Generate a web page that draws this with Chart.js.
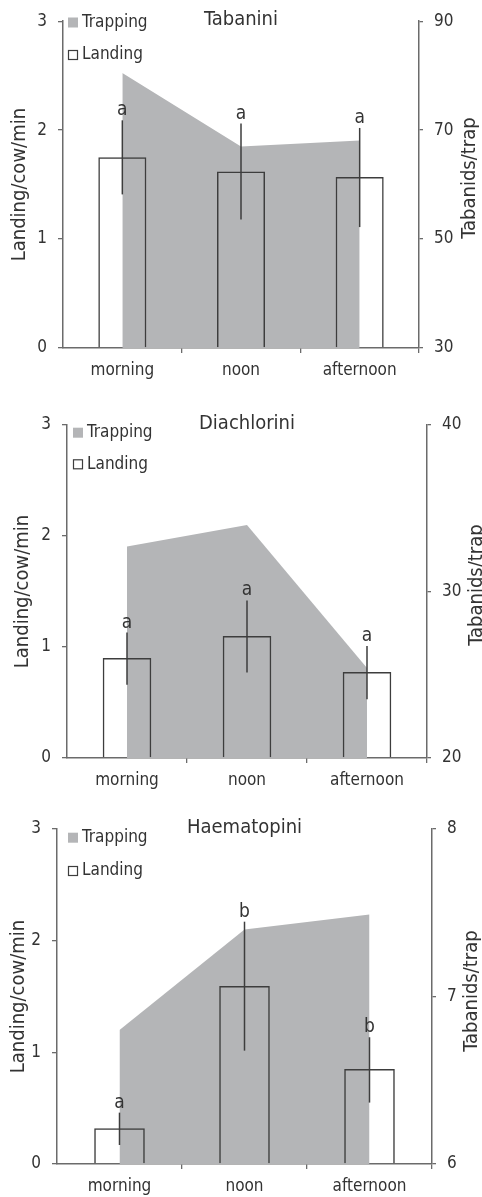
<!DOCTYPE html>
<html>
<head>
<meta charset="utf-8">
<script src="https://cdn.jsdelivr.net/npm/chart.js@4"></script>
<style>
  html, body { margin: 0; padding: 0; background: #fff; }
  canvas { display: block; }
</style>
</head>
<body>
<canvas id="c0" width="482" height="399"></canvas>
<canvas id="c1" width="482" height="399"></canvas>
<canvas id="c2" width="482" height="399"></canvas>
<script>
/* ── Data ───────────────────────────────────────────────── */
const periods = ["morning", "noon", "afternoon"];
const tribes  = ["Tabanini", "Diachlorini", "Haematopini"];

const landingTicks = [0, 1, 2, 3];

// Tabanini
const tabLanding  = [1.75, 1.62, 1.57];
const tabLow      = [1.41, 1.18, 1.11];
const tabHigh     = [2.09, 2.06, 2.02];
const tabLetters  = ["a", "a", "a"];
const tabTrapping = [80.5, 67.0, 68.1];
const tabTicks    = [30, 50, 70, 90];

// Diachlorini
const diaLanding  = [0.90, 1.10, 0.775];
const diaLow      = [0.66, 0.77, 0.53];
const diaHigh     = [1.13, 1.42, 1.01];
const diaLetters  = ["a", "a", "a"];
const diaTrapping = [32.7, 34.0, 25.4];
const diaTicks    = [20, 30, 40];

// Haematopini
const haeLanding  = [0.32, 1.595, 0.85];
const haeLow      = [0.17, 1.015, 0.55];
const haeHigh     = [0.46, 2.17, 1.135];
const haeLetters  = ["a", "b", "b"];
const haeTrapping = [6.80, 7.40, 7.49];
const haeTicks    = [6, 7, 8];

/* ── Style ──────────────────────────────────────────────── */
const FONT   = "'DejaVu Sans Condensed', 'Liberation Sans Narrow', 'DejaVu Sans', sans-serif";
const TEXT   = "#333333";
const AXIS   = "#6b6b6b";
const BAR    = "#3d3d3d";
const AREA   = "#b4b5b7";

// plot-area geometry per panel (canvas px)
const panels = [
  { title: tribes[0], landing: tabLanding, low: tabLow, high: tabHigh, letters: tabLetters,
    trap: tabTrapping, rTicks: tabTicks,
    box: { top: 20, bottom: 348, left: 63, right: 419 },
    leftTitlePad: 8, rightTitle: { x: 470, y: 178 },
    legend: { x: 68, y1: 22.5, y2: 55 } },
  { title: tribes[1], landing: diaLanding, low: diaLow, high: diaHigh, letters: diaLetters,
    trap: diaTrapping, rTicks: diaTicks,
    box: { top: 26, bottom: 359, left: 67, right: 427 },
    leftTitlePad: 11, rightTitle: { x: 477, y: 186 },
    legend: { x: 73, y1: 33.7, y2: 65.3 } },
  { title: tribes[2], landing: haeLanding, low: haeLow, high: haeHigh, letters: haeLetters,
    trap: haeTrapping, rTicks: haeTicks,
    box: { top: 31, bottom: 366, left: 57, right: 432 },
    leftTitlePad: 6.5, rightTitle: { x: 472, y: 193 },
    legend: { x: 68, y1: 39.7, y2: 73 } },
];

/* ── Extras: error bars, letters, legend, titles ────────── */
const extras = {
  id: "extras",
  afterDatasetsDraw(chart, args, o) {
    const { ctx, chartArea: a, scales: { y } } = chart;
    const bars = chart.getDatasetMeta(1);
    ctx.save();

    // error bars + significance letters
    ctx.strokeStyle = BAR;
    ctx.lineWidth   = 1.5;
    ctx.fillStyle   = TEXT;
    ctx.font        = "19px " + FONT;
    ctx.textAlign   = "center";
    ctx.textBaseline = "alphabetic";
    o.low.forEach((lo, i) => {
      const px = bars.data[i].x;
      const yt = y.getPixelForValue(o.high[i]);
      ctx.beginPath();
      ctx.moveTo(px, y.getPixelForValue(lo));
      ctx.lineTo(px, yt);
      ctx.stroke();
      ctx.fillText(o.letters[i], px, yt - 5);
    });

    // title
    ctx.font = "20px " + FONT;
    ctx.textBaseline = "middle";
    ctx.fillText(o.title, (a.left + a.right) / 2, a.top - 1);

    // right axis title, reading bottom to top
    ctx.save();
    ctx.translate(o.rightTitle.x, o.rightTitle.y);
    ctx.rotate(-Math.PI / 2);
    ctx.fillText(o.rightTitleText, 0, 0);
    ctx.restore();

    // legend
    const ds = chart.data.datasets;
    ctx.font = "17px " + FONT;
    ctx.textAlign = "left";
    const lg = o.legend;
    ctx.fillStyle = AREA;
    ctx.fillRect(lg.x, lg.y1 - 5, 10, 10);
    ctx.strokeStyle = BAR;
    ctx.lineWidth = 1.2;
    ctx.strokeRect(lg.x + 0.5, lg.y2 - 4.5, 9, 9);
    ctx.fillStyle = TEXT;
    ctx.fillText(ds[0].label, lg.x + 14, lg.y1);
    ctx.fillText(ds[1].label, lg.x + 14, lg.y2);

    ctx.restore();
  },
};

/* ── Build one panel ────────────────────────────────────── */
function renderPanel(idx) {
  const p  = panels[idx];
  const cv = document.getElementById("c" + idx);
  const W  = cv.width, H = cv.height, b = p.box;
  const tickFont = { family: FONT, size: 17 };

  new Chart(cv, {
    type: "bar",
    data: {
      labels: periods,
      datasets: [
        {
          type: "line",
          label: "Trapping",
          data: p.trap,
          yAxisID: "y1",
          fill: "start",
          backgroundColor: AREA,
          borderColor: "transparent",
          borderWidth: 0,
          pointRadius: 0,
          tension: 0,
          order: 2,
        },
        {
          label: "Landing",
          data: p.landing,
          yAxisID: "y",
          backgroundColor: "transparent",
          borderColor: BAR,
          borderWidth: 1.5,
          borderSkipped: "start",
          categoryPercentage: 1,
          barPercentage: 0.405,
          order: 1,
        },
      ],
    },
    options: {
      responsive: false,
      devicePixelRatio: 1,
      animation: false,
      layout: { padding: { top: b.top, left: 0, right: 0, bottom: 0 }, autoPadding: false },
      plugins: {
        legend:  { display: false },
        tooltip: { enabled: false },
        extras: {
          title: p.title, low: p.low, high: p.high, letters: p.letters,
          legend: p.legend, rightTitle: p.rightTitle, rightTitleText: "Tabanids/trap",
        },
      },
      scales: {
        x: {
          offset: true,
          grid: {
            offset: true,
            drawOnChartArea: false,
            tickLength: 5,
            color: c => (c.index === 0 || c.index === periods.length) ? "transparent" : AXIS,
            lineWidth: 1.3,
          },
          border: { color: AXIS, width: 1.5 },
          ticks: { color: TEXT, font: tickFont, padding: 7, maxRotation: 0 },
          afterFit: s => { s.height = H - b.bottom; },
        },
        y: {
          position: "left",
          min: landingTicks[0],
          max: landingTicks[landingTicks.length - 1],
          afterBuildTicks: s => { s.ticks = landingTicks.map(v => ({ value: v })); },
          grid:   { drawOnChartArea: false, tickLength: 5, color: AXIS, lineWidth: 1.3 },
          border: { color: AXIS, width: 1.5 },
          ticks:  { color: TEXT, font: tickFont, padding: 11 },
          title:  {
            display: true, text: "Landing/cow/min", color: TEXT,
            font: { family: FONT, size: 20 }, padding: { top: p.leftTitlePad, bottom: 0 },
          },
          afterFit: s => { s.width = b.left; },
        },
        y1: {
          position: "right",
          min: p.rTicks[0],
          max: p.rTicks[p.rTicks.length - 1],
          afterBuildTicks: s => { s.ticks = p.rTicks.map(v => ({ value: v })); },
          grid:   { drawOnChartArea: false, tickLength: 4, color: AXIS, lineWidth: 1.3 },
          border: { color: AXIS, width: 1.5 },
          ticks:  { color: TEXT, font: tickFont, padding: 11 },
          afterFit: s => { s.width = W - b.right; },
        },
      },
    },
    plugins: [extras],
  });
}

panels.forEach((_, i) => renderPanel(i));
</script>
</body>
</html>
